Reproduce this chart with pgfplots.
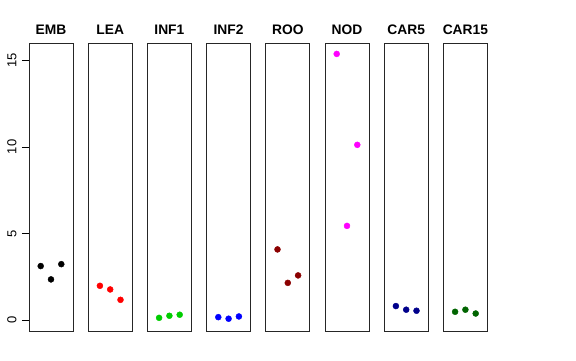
\documentclass[border=0pt]{standalone}
\usepackage{fontspec}
\setmainfont{Liberation Sans}
\usepackage{pgfplots}
\pgfplotsset{compat=1.18}
\definecolor{green3}{RGB}{0,205,0}
\definecolor{rdark}{RGB}{139,0,0}
\definecolor{bnavy}{RGB}{0,0,139}
\definecolor{gdark}{RGB}{0,100,0}
\definecolor{mag}{RGB}{255,0,255}
\pgfplotsset{
  panel/.style={scale only axis, width=44pt, height=288pt,
    xmin=-0.136, xmax=4.136, ymin=-0.63, ymax=16.0, anchor=south west,
    axis line style={line width=0.8pt, black!85},
    xtick=\empty, ytick=\empty,
    title style={font=\fontsize{13.8}{15}\selectfont\bfseries, at={(0.5,1)}, anchor=base, yshift=2.7pt}},
  pts/.style={only marks, mark=*, mark size=3pt, color=#1, mark options={draw=#1, fill=#1}}
}
\begin{document}
\begin{tikzpicture}
\path[use as bounding box] (0,0) rectangle (576pt,360pt);
\begin{axis}[panel, at={(29pt,29pt)}, title={EMB},
  ytick={0,5,10,15}, ytick pos=left, tick align=outside, major tick length=7pt,
  tick style={black, line width=0.6pt},
  /pgf/number format/assume math mode=true,
  yticklabel style={xshift=-2pt, font=\fontsize{13}{14}\selectfont, rotate=90, anchor=south}]
\addplot[pts=black] coordinates {(1,3.12)(2,2.35)(3,3.23)};
\end{axis}
\begin{axis}[panel, at={(88.2pt,29pt)}, title={LEA}]
\addplot[pts=red] coordinates {(1,1.98)(2,1.77)(3,1.17)};
\end{axis}
\begin{axis}[panel, at={(147.4pt,29pt)}, title={INF1}]
\addplot[pts=green3] coordinates {(1,0.13)(2,0.25)(3,0.31)};
\end{axis}
\begin{axis}[panel, at={(206.6pt,29pt)}, title={INF2}]
\addplot[pts=blue] coordinates {(1,0.17)(2,0.08)(3,0.21)};
\end{axis}
\begin{axis}[panel, at={(265.8pt,29pt)}, title={ROO}]
\addplot[pts=rdark] coordinates {(1,4.08)(2,2.15)(3,2.58)};
\end{axis}
\begin{axis}[panel, at={(325pt,29pt)}, title={NOD}]
\addplot[pts=mag] coordinates {(1,15.37)(2,5.44)(3,10.12)};
\end{axis}
\begin{axis}[panel, at={(384.2pt,29pt)}, title={CAR5}]
\addplot[pts=bnavy] coordinates {(1,0.81)(2,0.60)(3,0.54)};
\end{axis}
\begin{axis}[panel, at={(443.4pt,29pt)}, title={CAR15}]
\addplot[pts=gdark] coordinates {(1,0.48)(2,0.60)(3,0.38)};
\end{axis}
\end{tikzpicture}
\end{document}
